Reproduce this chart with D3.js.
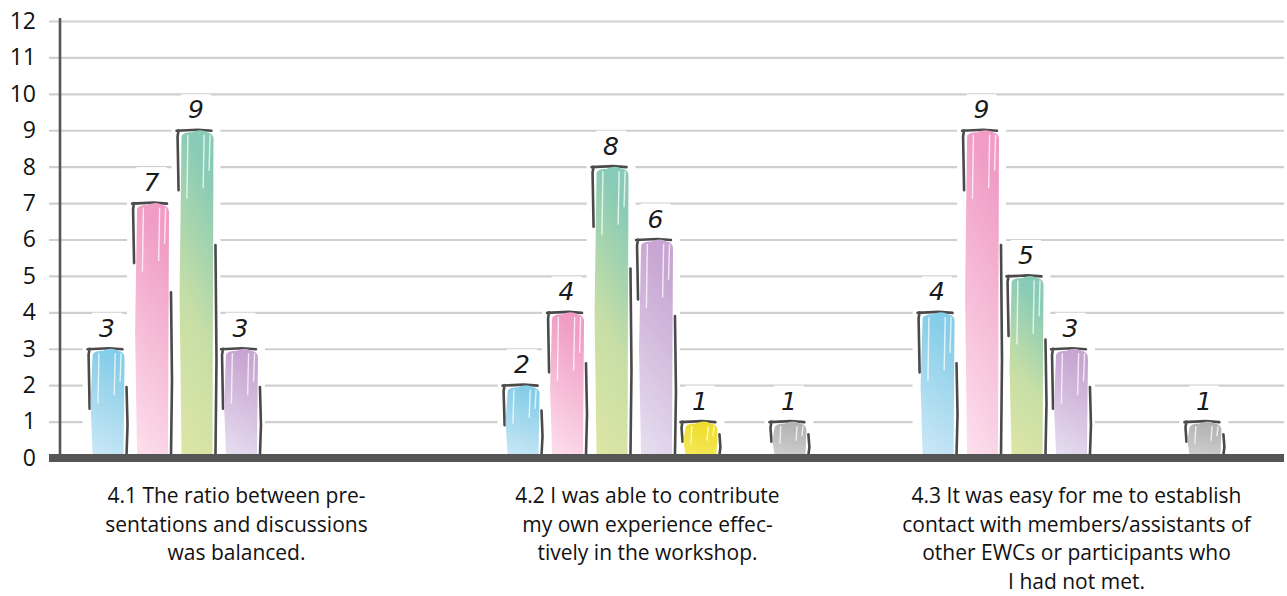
<!DOCTYPE html>
<html>
<head>
<meta charset="utf-8">
<script src="https://cdn.jsdelivr.net/npm/d3@7"></script>
<style>
  html, body { margin: 0; padding: 0; background: #fff; }
  svg { display: block; }
</style>
</head>
<body>
<svg id="chart" width="1287" height="596"></svg>
<script>
// ---- data ----
const categories = ["4.1", "4.2", "4.3"];
const categoryLines = [
  ["4.1 The ratio between pre-", "sentations and discussions", "was balanced."],
  ["4.2 I was able to contribute", "my own experience effec-", "tively in the workshop."],
  ["4.3 It was easy for me to establish", "contact with members/assistants of", "other EWCs or participants who", "I had not met."]
];
const seriesKeys = ["r1", "r2", "r3", "r4", "r5", "r6", "r7"];
const values41 = [3, 7, 9, 3, 0, 0, 0];
const values42 = [2, 4, 8, 6, 1, 0, 1];
const values43 = [4, 9, 5, 3, 0, 0, 1];
const yTicks = [0, 1, 2, 3, 4, 5, 6, 7, 8, 9, 10, 11, 12];

// brush colours per response (top -> bottom of each bar)
const seriesColors = [
  ["#85cde8", "#cfe9f7"],
  ["#f09cc5", "#fde2ee"],
  ["#88cbb6", "#c6dea6", "#dfe6a4"],
  ["#c8a5d2", "#e7e1f1"],
  ["#eedd2e", "#f6ea5e"],
  ["#f3b36a", "#f9d7a8"],
  ["#b3b3b3", "#d2d2d2"]
];

const table = categories.map((c, i) => ({
  category: c,
  lines: categoryLines[i],
  values: [values41, values42, values43][i]
}));

// ---- layout ----
const plotLeft = 49, plotRight = 1284, axisX = 60;
const svg = d3.select("#chart");

const y = d3.scaleLinear().domain([0, 12]).range([458, 21]);
const x0 = d3.scaleBand().domain(categories).range([33, 1278]).padding(0);
const x1 = d3.scaleBand().domain(seriesKeys).range([0, x0.bandwidth()])
  .paddingInner(0.17).paddingOuter(1.25);

// gradients
const defs = svg.append("defs");
seriesColors.forEach((cols, i) => {
  const g = defs.append("linearGradient").attr("id", "grad" + i)
    .attr("x1", "0.2").attr("y1", "0").attr("x2", "0").attr("y2", "1");
  cols.forEach((c, k) => g.append("stop")
    .attr("offset", (k / (cols.length - 1)) * 100 + "%").attr("stop-color", c));
});

// ---- gridlines + tick labels ----
const yAxis = d3.axisLeft(y).tickValues(yTicks)
  .tickSize(-(plotRight - plotLeft)).tickPadding(13).tickFormat(d3.format("d"));
const gy = svg.append("g").attr("transform", `translate(${plotLeft},0)`).call(yAxis);
gy.select(".domain").remove();
gy.selectAll(".tick line").attr("stroke", "#cfcfcf").attr("stroke-width", 2.2);
gy.selectAll(".tick text")
  .attr("fill", "#111")
  .style("font-family", "'Open Sans', 'Noto Sans', sans-serif")
  .style("font-size", "23px");

// ---- bars ----
const bars = [];
table.forEach(row => {
  row.values.forEach((v, i) => {
    if (v > 0) bars.push({ category: row.category, key: seriesKeys[i], idx: i, value: v });
  });
});

const barsG = svg.append("g");
// white halo behind each bar (breaks the gridlines, as with a cut-out brush stroke)
barsG.selectAll("rect.halo").data(bars).join("rect")
  .attr("class", "halo")
  .attr("x", d => x0(d.category) + x1(d.key) - 6)
  .attr("y", d => y(d.value) - 5)
  .attr("width", x1.bandwidth() + 12)
  .attr("height", d => y(0) - y(d.value) + 5)
  .attr("fill", "#fff");

// sketchy dark frame: top edge, upper-left side, lower-right side
const sketch = d3.line().curve(d3.curveLinear);
barsG.selectAll("path.frame").data(bars).join("path")
  .attr("class", "frame")
  .attr("fill", "none")
  .attr("stroke", "#4a4a4a")
  .attr("stroke-width", 2.6)
  .attr("stroke-linecap", "round")
  .attr("d", d => {
    const bx = x0(d.category) + x1(d.key), bw = x1.bandwidth();
    const top = y(d.value), base = y(0), h = base - top;
    const left = sketch([[bx + 1, top + Math.min(h * 0.55, 60)], [bx, top + 6], [bx + 1, top]]);
    const topEdge = sketch([[bx - 1, top + 0.5], [bx + bw * 0.55, top - 0.5], [bx + bw - 3, top + 0.5]]);
    const right = sketch([[bx + bw + 1, top + Math.max(h * 0.35, 10)], [bx + bw + 2, top + h * 0.7], [bx + bw + 1, base - 3]]);
    return left + topEdge + right;
  });

// brush fill
barsG.selectAll("path.fill").data(bars).join("path")
  .attr("class", "fill")
  .attr("fill", d => `url(#grad${d.idx})`)
  .attr("d", d => {
    const bx = x0(d.category) + x1(d.key) + 3, bw = x1.bandwidth() - 4;
    const top = y(d.value) + 1, base = y(0) + 1;
    const p = d3.path();
    p.moveTo(bx + 1, top + 5);
    p.quadraticCurveTo(bx + 2, top + 1, bx + bw * 0.35, top + 1);
    p.quadraticCurveTo(bx + bw * 0.6, top - 3, bx + bw * 0.8, top + 1);
    p.quadraticCurveTo(bx + bw + 1, top + 2, bx + bw, top + 10);
    p.lineTo(bx + bw - 1, base - 4);
    p.quadraticCurveTo(bx + bw - 1, base, bx + bw - 6, base);
    p.lineTo(bx + 5, base);
    p.quadraticCurveTo(bx, base, bx + 1, base - 4);
    p.lineTo(bx - 1, top + (base - top) * 0.5);
    p.closePath();
    return p.toString();
  });

// light streaks across the brush stroke
barsG.selectAll("g.streaks").data(bars).join("g")
  .attr("class", "streaks")
  .each(function (d) {
    const bx = x0(d.category) + x1(d.key), bw = x1.bandwidth();
    const top = y(d.value), h = y(0) - top;
    const g = d3.select(this);
    const len = Math.min(h * 0.5, 70);
    [[0.28, 0.9], [0.72, 0.75], [0.88, 0.5]].forEach(([fx, fl]) => {
      g.append("line")
        .attr("x1", bx + bw * fx).attr("y1", top + 5)
        .attr("x2", bx + bw * fx - 1).attr("y2", top + 5 + len * fl)
        .attr("stroke", "#fff").attr("stroke-opacity", 0.75)
        .attr("stroke-width", 1.4).attr("stroke-linecap", "round");
    });
  });

// ---- value labels ----
const labelsG = svg.append("g");
labelsG.selectAll("rect").data(bars).join("rect")
  .attr("x", d => x0(d.category) + x1(d.key) + x1.bandwidth() / 2 - 15)
  .attr("y", d => y(d.value) - 36)
  .attr("width", 30).attr("height", 28)
  .attr("fill", "#fff");
labelsG.selectAll("text").data(bars).join("text")
  .attr("x", d => x0(d.category) + x1(d.key) + x1.bandwidth() / 2)
  .attr("y", d => y(d.value) - 12)
  .attr("text-anchor", "middle")
  .attr("fill", "#1a1a1a")
  .style("font-family", "'DejaVu Sans', sans-serif")
  .style("font-weight", 200)
  .style("font-style", "italic")
  .style("font-size", "25px")
  .text(d => d.value);

// ---- axis lines ----
svg.append("line")
  .attr("x1", axisX).attr("x2", axisX)
  .attr("y1", 18).attr("y2", y(0))
  .attr("stroke", "#555").attr("stroke-width", 2.6);
svg.append("rect")
  .attr("x", plotLeft).attr("y", y(0) - 4)
  .attr("width", plotRight - plotLeft).attr("height", 8)
  .attr("fill", "#555");

// ---- category labels ----
const labelShift = [-4, -8, 6];
const catG = svg.append("g")
  .style("font-family", "'Open Sans', 'Noto Sans', sans-serif")
  .style("font-size", "21px")
  .attr("fill", "#111");
table.forEach((row, i) => {
  const cx = x0(row.category) + x0.bandwidth() / 2 + labelShift[i];
  const t = catG.append("text")
    .attr("x", cx)
    .attr("y", 503)
    .attr("text-anchor", "middle");
  row.lines.forEach((ln, k) => {
    t.append("tspan")
      .attr("x", cx)
      .attr("dy", k === 0 ? 0 : 28.5)
      .text(ln);
  });
});
</script>
</body>
</html>
